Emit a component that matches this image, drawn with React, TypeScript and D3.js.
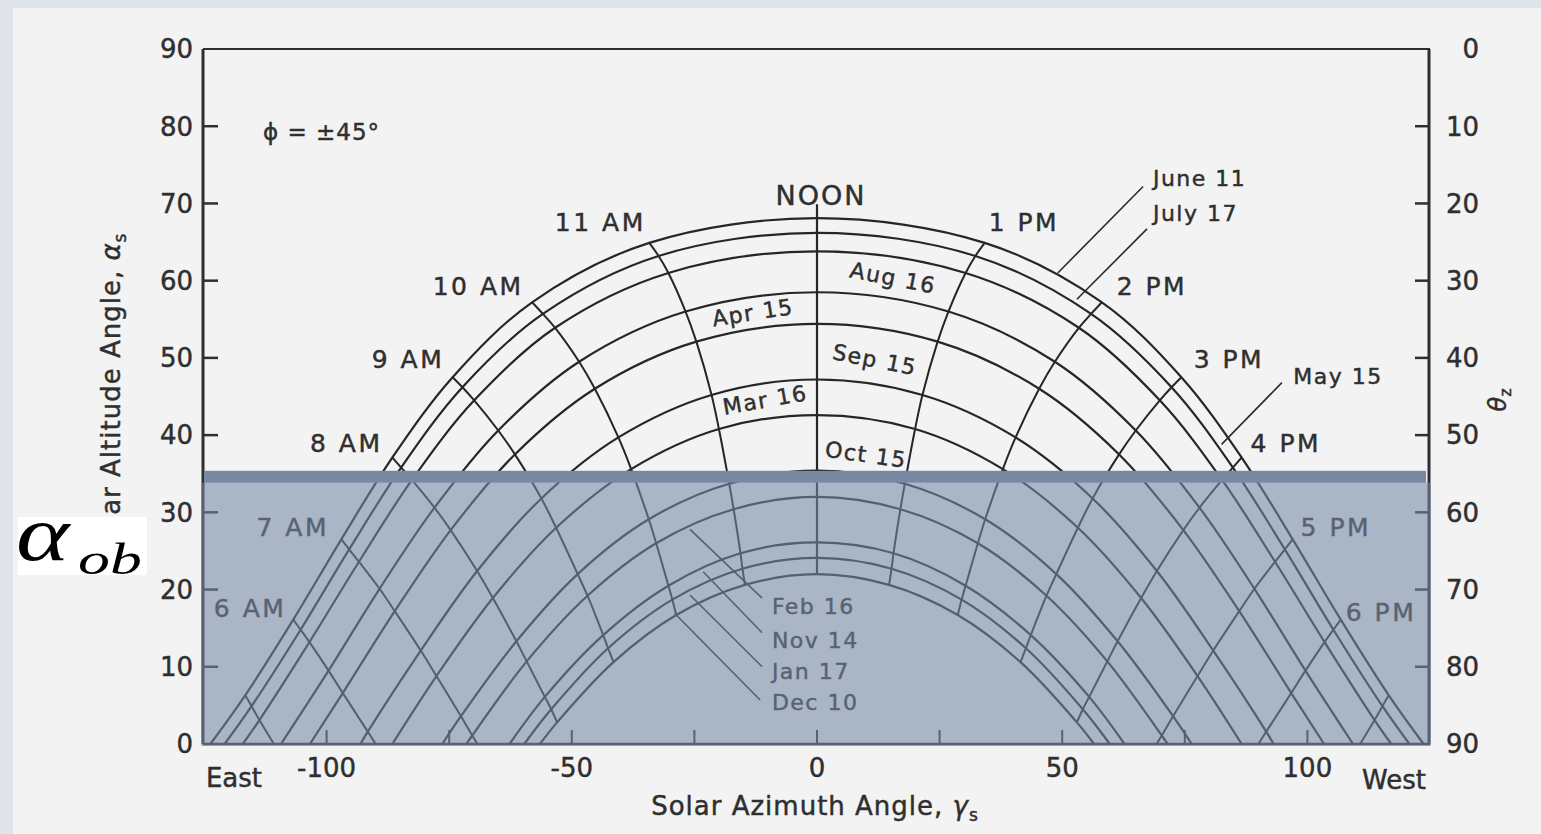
import React from "react";
import * as d3 from "d3";

const W = 1541;
const H = 834;

// Sun path points for phi = 45 deg: [azimuth, altitude] at hour angles 0,15,30,... (afternoon side)
const jun11 = [[0, 68.1], [34.2, 64.9], [58.1, 57.2], [74.3, 47.5], [86.6, 37.1], [97.0, 26.5], [106.8, 16.1], [116.6, 6.3]];
const jul17 = [[0, 66.2], [32.3, 63.2], [55.9, 55.7], [72.3, 46.2], [84.8, 35.8], [95.4, 25.2], [105.3, 14.8], [115.3, 4.9]];
const may15 = [[0, 63.8], [30.3, 61.0], [53.4, 53.9], [69.9, 44.5], [82.6, 34.2], [93.4, 23.6], [103.5, 13.2], [113.7, 3.1]];
const aug16 = [[0, 58.5], [26.8, 56.0], [48.5, 49.5], [65.0, 40.6], [78.0, 30.6], [89.2, 20.1], [99.6, 9.5]];
const apr15 = [[0, 54.4], [24.6, 52.1], [45.3, 46.0], [61.6, 37.5], [74.7, 27.7], [86.1, 17.2], [96.7, 6.6]];
const sep15 = [[0, 47.2], [21.5, 45.2], [40.5, 39.7], [56.2, 31.8], [69.3, 22.4], [80.8, 12.1], [91.6, 1.6]];
const mar16 = [[0, 42.6], [20.0, 40.8], [37.9, 35.6], [53.2, 28.0], [66.1, 18.9], [77.6, 8.8]];
const oct15 = [[0, 35.4], [17.9, 33.7], [34.3, 29.1], [48.8, 22.0], [61.3, 13.3], [72.6, 3.6]];
const feb16 = [[0, 32.0], [17.0, 30.4], [32.8, 26.0], [46.8, 19.2], [59.2, 10.7], [70.3, 1.1]];
const nov14 = [[0, 26.1], [15.6, 24.7], [30.3, 20.5], [43.6, 14.1], [55.5, 6.1]];
const jan17 = [[0, 24.1], [15.2, 22.7], [29.5, 18.7], [42.6, 12.4], [54.2, 4.5]];
const dec10 = [[0, 22.0], [14.7, 20.6], [28.7, 16.7], [41.5, 10.6], [53.0, 2.8]];

const dateSeries = [jun11, jul17, may15, aug16, apr15, sep15, mar16, oct15, feb16, nov14, jan17, dec10];
const sunsetAz = [123.7, 120.8, 117.1, 109.3, 103.4, 93.1, 86.6, 76.4, 71.5, 62.7, 59.7, 56.5];

// hour lines meeting the horizon (index = hours from noon)
const hourHorizonAz = [null, null, null, null, null, 69.25, 90, 110.75];
const noonTop = 69.9;

const pmLabels = ["1 PM", "2 PM", "3 PM", "4 PM", "5 PM", "6 PM"];
const pmLabelPos = [[42.2, 67.6], [68.3, 59.3], [84.0, 49.8], [95.6, 39.0], [105.8, 28.1], [115.0, 17.1]];
const amLabels = ["11 AM", "10 AM", "9 AM", "8 AM", "7 AM", "6 AM"];
const amLabelPos = [[-44.2, 67.6], [-69.1, 59.3], [-83.4, 49.8], [-96.0, 39.0], [-106.9, 28.1], [-115.6, 17.6]];
const noonLabelPos = [0.8, 71.1];

// rotated date labels inside the arcs
const arcLabels = ["Aug 16", "Apr 15", "Sep 15", "Mar 16", "Oct 15"];
const arcLabelPos = [[15.5, 60.4], [-13.1, 55.9], [11.8, 49.8], [-10.6, 44.6], [10.0, 37.5]];
const arcLabelRot = [11, -9, 11, -10, 8];

// date labels with leader lines
const leaderLabels = ["June 11", "July 17", "May 15", "Feb 16", "Nov 14", "Jan 17", "Dec 10"];
const leaderLabelPos = [[68.5, 73.3], [68.5, 68.7], [97.1, 47.7], [-9.2, 17.8], [-9.2, 13.5], [-9.2, 9.5], [-9.2, 5.4]];
const leaderStart = [[66.5, 72.2], [67.3, 66.7], [94.8, 46.8], [-11.2, 18.9], [-11.2, 14.4], [-11.2, 10.0], [-11.6, 5.7]];
const leaderEnd = [[49.1, 61.0], [53.0, 57.6], [82.5, 38.8], [-25.9, 27.8], [-23.2, 22.3], [-25.9, 19.3], [-29.0, 16.9]];

const altTicks = [0, 10, 20, 30, 40, 50, 60, 70, 80, 90];
const azTickLabels = [-100, -50, 0, 50, 100];
const azMinorTicks = [-100, -75, -50, -25, 0, 25, 50, 75, 100];
const alphaOb = 34.6;

const FONT = "DejaVu Sans";
const INK = "#2f2f2f";
const TXT = { fontFamily: FONT, fill: INK, stroke: INK, strokeWidth: 0.45 } as const;

export default function App() {
  const x = d3.scaleLinear().domain([-125, 125]).range([204, 1430]);
  const y = d3.scaleLinear().domain([0, 90]).range([744, 49]);
  const line = d3
    .line<number[]>()
    .x((d) => x(d[0]))
    .y((d) => y(d[1]))
    .curve(d3.curveCatmullRom.alpha(0.5));

  const datePaths = dateSeries.map((pts, i) => {
    const full = [
      [-sunsetAz[i], 0],
      ...pts.slice(1).reverse().map((p) => [-p[0], p[1]]),
      ...pts,
      [sunsetAz[i], 0],
    ];
    return line(full) as string;
  });

  const hourPaths: string[] = [];
  for (let h = 1; h <= 7; h++) {
    const pts = dateSeries.filter((s) => s.length > h).map((s) => s[h]);
    const hz = hourHorizonAz[h];
    if (hz !== null) pts.push([hz as number, 0]);
    hourPaths.push(line(pts) as string);
    hourPaths.push(line(pts.map((p) => [-p[0], p[1]])) as string);
  }
  const noonPts = [[0, noonTop], ...dateSeries.map((s) => s[0])];

  const x0 = x(-125);
  const x1 = x(125);
  const yTop = y(90);
  const yBot = y(0);
  const yOb = y(alphaOb);

  return (
    <svg width={W} height={H} style={{ position: "absolute", left: 0, top: 0 }} xmlns="http://www.w3.org/2000/svg">
      <defs>
        <clipPath id="obclip">
          <rect x={18} y={517} width={129} height={58} />
        </clipPath>
      </defs>
      <rect x={0} y={0} width={W} height={H} fill="#dfe4ea" />
      <rect x={13} y={8} width={W - 13} height={H - 8} fill="#f3f3f3" />

      {/* frame */}
      <line x1={x0 - 1} x2={x0 - 1} y1={yTop} y2={yBot} stroke={INK} strokeWidth={3} />
      <line x1={x1 - 1} x2={x1 - 1} y1={yTop} y2={yBot} stroke={INK} strokeWidth={3} />
      <line x1={x0 - 1} x2={x1} y1={yTop} y2={yTop} stroke={INK} strokeWidth={2} />
      <line x1={x0 - 1} x2={x1} y1={yBot} y2={yBot} stroke={INK} strokeWidth={2.5} />

      {/* ticks */}
      {altTicks.filter((t) => t > 0 && t < 90).map((t) => (
        <g key={"lt" + t}>
          <line x1={x0} x2={x0 + 14} y1={y(t)} y2={y(t)} stroke={INK} strokeWidth={2.5} />
          <line x1={x1 - 15} x2={x1 - 2} y1={y(t)} y2={y(t)} stroke={INK} strokeWidth={2.5} />
        </g>
      ))}
      {azMinorTicks.map((t) => (
        <line key={"bt" + t} x1={x(t)} x2={x(t)} y1={yBot} y2={yBot - 14} stroke={INK} strokeWidth={2} />
      ))}

      {/* tick labels */}
      {altTicks.map((t) => (
        <text key={"ll" + t} x={193} y={y(t)} dy="0.36em" textAnchor="end" fontSize={26} {...TXT}>
          {t}
        </text>
      ))}
      {altTicks.map((t) => (
        <text key={"rl" + t} x={1479} y={y(t)} dy="0.36em" textAnchor="end" fontSize={26} {...TXT}>
          {90 - t}
        </text>
      ))}
      {azTickLabels.map((t) => (
        <text key={"bl" + t} x={x(t)} y={768} dy="0.36em" textAnchor="middle" fontSize={26} {...TXT}>
          {t}
        </text>
      ))}
      <text x={234} y={778} dy="0.36em" textAnchor="middle" fontSize={26} {...TXT}>East</text>
      <text x={1394} y={780} dy="0.36em" textAnchor="middle" fontSize={26} {...TXT}>West</text>

      {/* axis titles */}
      <text x={815} y={806} dy="0.36em" textAnchor="middle" fontSize={26} letterSpacing={1} {...TXT}>
        Solar Azimuth Angle, <tspan fontStyle="italic">γ</tspan>
        <tspan fontSize={17} dy="6">s</tspan>
      </text>
      <text transform="translate(120,395) rotate(-90)" textAnchor="middle" fontSize={26} letterSpacing={1} {...TXT}>
        Solar Altitude Angle, <tspan fontStyle="italic">α</tspan>
        <tspan fontSize={17} dy="6">s</tspan>
      </text>
      <text transform="translate(1506,400) rotate(-90)" textAnchor="middle" fontSize={24} {...TXT}>
        <tspan fontStyle="italic">θ</tspan>
        <tspan fontSize={16} dy="5">z</tspan>
      </text>

      <text x={263} y={132} dy="0.36em" fontSize={23} letterSpacing={1} {...TXT}>
        ϕ = ±45°
      </text>

      {/* sun path curves */}
      {datePaths.map((d, i) => (
        <path key={"dp" + i} d={d} fill="none" stroke="#262626" strokeWidth={2.2} />
      ))}
      {hourPaths.map((d, i) => (
        <path key={"hp" + i} d={d} fill="none" stroke="#262626" strokeWidth={2} />
      ))}
      <path d={line(noonPts) as string} fill="none" stroke="#262626" strokeWidth={2.2} />

      {/* hour labels */}
      <text x={x(noonLabelPos[0])} y={y(noonLabelPos[1])} dy="0.36em" textAnchor="middle" fontSize={27} letterSpacing={2} {...TXT}>
        NOON
      </text>
      {pmLabels.map((t, i) => (
        <text key={"pm" + i} x={x(pmLabelPos[i][0])} y={y(pmLabelPos[i][1])} dy="0.36em" textAnchor="middle" fontSize={25} letterSpacing={2.5} {...TXT}>
          {t}
        </text>
      ))}
      {amLabels.map((t, i) => (
        <text key={"am" + i} x={x(amLabelPos[i][0])} y={y(amLabelPos[i][1])} dy="0.36em" textAnchor="middle" fontSize={25} letterSpacing={2.5} {...TXT}>
          {t}
        </text>
      ))}

      {/* date labels */}
      {arcLabels.map((t, i) => (
        <text key={"al" + i} transform={`translate(${x(arcLabelPos[i][0])},${y(arcLabelPos[i][1])}) rotate(${arcLabelRot[i]})`} dy="0.36em" textAnchor="middle" fontSize={22} letterSpacing={1.5} {...TXT}>
          {t}
        </text>
      ))}
      {leaderLabels.map((t, i) => (
        <g key={"ld" + i}>
          <line x1={x(leaderStart[i][0])} y1={y(leaderStart[i][1])} x2={x(leaderEnd[i][0])} y2={y(leaderEnd[i][1])} stroke="#2a2a2a" strokeWidth={1.6} />
          <text x={x(leaderLabelPos[i][0])} y={y(leaderLabelPos[i][1])} dy="0.36em" fontSize={22} letterSpacing={1.5} {...TXT}>
            {t}
          </text>
        </g>
      ))}

      {/* obstruction overlay */}
      <rect x={x0 - 3} y={yOb + 6} width={x1 - x0 + 4} height={yBot - yOb - 4} fill="rgb(118,136,164)" fillOpacity={0.58} />
      <rect x={x0} y={yOb - 6} width={x1 - x0 - 4} height={12} fill="#7789a2" />

      {/* alpha_ob label */}
      <rect x={18} y={517} width={129} height={58} fill="#ffffff" />
      <g clipPath="url(#obclip)">
        <text transform="translate(16,560) scale(1.3,1)" fontFamily="Liberation Serif" fontStyle="italic" fontSize={78} fill="#000">
          α
        </text>
        <text transform="translate(78,574) scale(1.45,1)" fontFamily="Liberation Serif" fontStyle="italic" fontSize={44} fill="#000">
          ob
        </text>
      </g>
    </svg>
  );
}
